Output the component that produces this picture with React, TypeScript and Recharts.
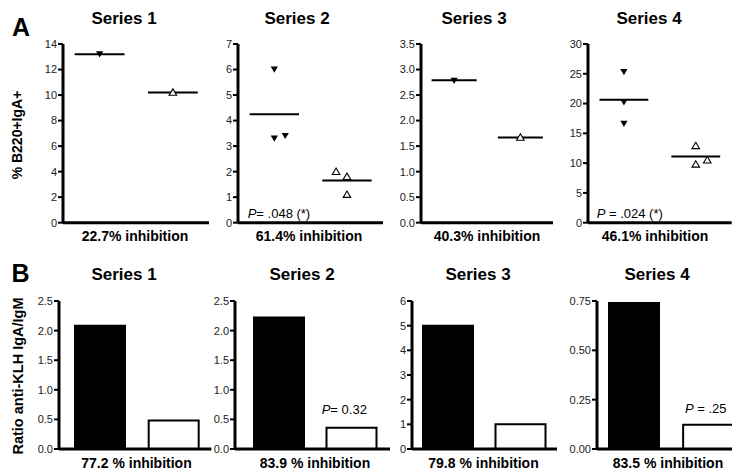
import React from 'react';
import { ScatterChart, Scatter, XAxis, YAxis, ReferenceLine, BarChart, Bar, Cell } from 'recharts';

// ---------- data ----------
const panelTitles = ['Series 1', 'Series 2', 'Series 3', 'Series 4'];
const aInhibition = ['22.7% inhibition', '61.4% inhibition', '40.3% inhibition', '46.1% inhibition'];
const bInhibition = ['77.2 % inhibition', '83.9 % inhibition', '79.8 % inhibition', '83.5 % inhibition'];

const aTicks = [
  [0, 2, 4, 6, 8, 10, 12, 14],
  [0, 1, 2, 3, 4, 5, 6, 7],
  [0, 0.5, 1, 1.5, 2, 2.5, 3, 3.5],
  [0, 5, 10, 15, 20, 25, 30],
];
const aDecimals = [0, 0, 1, 0];

const filledValues = [[13.2], [6.0, 3.3, 3.4], [2.78], [25.3, 20.2, 16.6]];
const filledJitter = [[0], [0, 0, 0.15], [0], [0, 0, 0]];
const openValues = [[10.2], [2.0, 1.8, 1.1], [1.67], [12.9, 9.8, 10.5]];
const openJitter = [[0], [-0.15, 0, 0], [0], [0, 0, 0.16]];
const filledMeans = [13.2, 4.25, 2.79, 20.66];
const openMeans = [10.2, 1.65, 1.67, 11.1];

const aPText = ['', '= .048 (*)', '', ' = .024 (*)'];

const bTicks = [
  [0, 0.5, 1, 1.5, 2, 2.5],
  [0, 0.5, 1, 1.5, 2, 2.5],
  [0, 1, 2, 3, 4, 5, 6],
  [0, 0.25, 0.5, 0.75],
];
const bDecimals = [1, 1, 0, 2];
const bFilled = [2.08, 2.22, 5.0, 0.74];
const bOpen = [0.48, 0.36, 1.0, 0.123];
const bPText = ['', '= 0.32', '', ' = .25'];

// ---------- layout ----------
const FONT = '"Liberation Sans", Arial, Helvetica, sans-serif';
const YW = 40;
const MT = 8;
const MB = 8;
const XH = 3;

const aAxisX = [62.5, 237.7, 420.5, 588.3];
const aAxisEnd = [209, 383, 553, 732];
const aTop = 44;
const aBottom = 222.7;
const aTitleX = [124, 297, 474, 649];
const aInhX = [135, 309, 487, 655];
const aPPos = [null, [247.7, 213], null, [596.7, 213]];

const bAxisX = [59.3, 235, 411.7, 596.7];
const bAxisEnd = [211.7, 390, 556.7, 745];
const bPad = [[4, 1], [8, 2], [0, 0], [0, 0]];
const bTop = 300.5;
const bBottom = 448.5;
const bTitleX = [124, 302, 478, 657];
const bInhX = [136.5, 315, 483.5, 668];
const bPPos = [null, [321.7, 409], null, [685, 408]];

const HALF = 0.34;

const DownTri = (props: any) => {
  const { cx, cy } = props;
  if (cx == null || cy == null) return null;
  return <path d={`M${cx - 3.6},${cy - 3} L${cx + 3.6},${cy - 3} L${cx},${cy + 3.2} Z`} fill="#000" />;
};
const UpTri = (props: any) => {
  const { cx, cy } = props;
  if (cx == null || cy == null) return null;
  return (
    <path
      d={`M${cx},${cy - 3.6} L${cx + 3.8},${cy + 2.8} L${cx - 3.8},${cy + 2.8} Z`}
      fill="#fff"
      stroke="#000"
      strokeWidth={1.1}
    />
  );
};

const txt = (x: number, y: number, s: string, style: React.CSSProperties, key: string) => (
  <div
    key={key}
    style={{
      position: 'absolute',
      left: x,
      top: y,
      transform: 'translate(-50%, -50%)',
      whiteSpace: 'nowrap',
      lineHeight: 1,
      fontFamily: FONT,
      color: '#000',
      ...style,
    }}
  >
    {s}
  </div>
);

const axisLine = { stroke: '#000', strokeWidth: 3 };
const tickLine = { stroke: '#000', strokeWidth: 2 };
const tickStyle = { fontSize: 11, fill: '#222', fontFamily: FONT };

function DotPanel({ i }: { i: number }) {
  const plotW = aAxisEnd[i] - aAxisX[i];
  const plotH = aBottom - aTop;
  const w = plotW + YW;
  const h = MT + plotH + XH + MB;
  const filled = filledValues[i].map((y, k) => ({ x: 0.5 + filledJitter[i][k], y }));
  const open = openValues[i].map((y, k) => ({ x: 1.5 + openJitter[i][k], y }));
  const ticks = aTicks[i];
  const dom = [ticks[0], ticks[ticks.length - 1]];
  return (
    <div style={{ position: 'absolute', left: aAxisX[i] - YW, top: aTop - MT }}>
      <ScatterChart width={w} height={h} margin={{ top: MT, right: 0, left: 0, bottom: MB }}>
        <XAxis type="number" dataKey="x" domain={[0, 2]} tick={false} tickLine={false} axisLine={axisLine} height={XH} />
        <YAxis
          type="number"
          dataKey="y"
          domain={dom}
          ticks={ticks}
          interval={0}
          width={YW}
          tickSize={5}
          tickMargin={1}
          tick={tickStyle}
          tickLine={tickLine}
          axisLine={axisLine}
          tickFormatter={(v: number) => v.toFixed(aDecimals[i])}
          allowDataOverflow
        />
        <ReferenceLine
          segment={[{ x: 0.5 - HALF, y: filledMeans[i] }, { x: 0.5 + HALF, y: filledMeans[i] }]}
          stroke="#000"
          strokeWidth={2}
        />
        <ReferenceLine
          segment={[{ x: 1.5 - HALF, y: openMeans[i] }, { x: 1.5 + HALF, y: openMeans[i] }]}
          stroke="#000"
          strokeWidth={2}
        />
        <Scatter data={filled} shape={DownTri} isAnimationActive={false} />
        <Scatter data={open} shape={UpTri} isAnimationActive={false} />
      </ScatterChart>
    </div>
  );
}

function BarPanel({ i }: { i: number }) {
  const plotW = bAxisEnd[i] - bAxisX[i];
  const plotH = bBottom - bTop;
  const w = plotW + YW;
  const h = MT + plotH + XH + MB;
  const data = [
    { name: 'control', v: bFilled[i] },
    { name: 'treated', v: bOpen[i] },
  ];
  const ticks = bTicks[i];
  const dom = [ticks[0], ticks[ticks.length - 1]];
  return (
    <div style={{ position: 'absolute', left: bAxisX[i] - YW, top: bTop - MT }}>
      <BarChart width={w} height={h} data={data} margin={{ top: MT, right: 0, left: 0, bottom: MB }} barCategoryGap={0}>
        <XAxis
          dataKey="name"
          type="category"
          tick={false}
          tickLine={false}
          axisLine={axisLine}
          height={XH}
          padding={{ left: bPad[i][0], right: bPad[i][1] }}
        />
        <YAxis
          type="number"
          domain={dom}
          ticks={ticks}
          interval={0}
          width={YW}
          tickSize={5}
          tickMargin={1}
          tick={tickStyle}
          tickLine={tickLine}
          axisLine={axisLine}
          tickFormatter={(v: number) => v.toFixed(bDecimals[i])}
          allowDataOverflow
        />
        <Bar dataKey="v" barSize={50} stroke="#000" strokeWidth={2} isAnimationActive={false}>
          {data.map((d, k) => (
            <Cell key={d.name} fill={k === 0 ? '#000' : '#fff'} />
          ))}
        </Bar>
      </BarChart>
    </div>
  );
}

export default function App() {
  const texts: React.ReactNode[] = [];
  texts.push(txt(21, 27, 'A', { fontSize: 25, fontWeight: 700 }, 'A'));
  texts.push(txt(20.5, 273, 'B', { fontSize: 25, fontWeight: 700 }, 'B'));
  texts.push(
    txt(17, 135, '% B220+IgA+', { fontSize: 14, fontWeight: 700, transform: 'translate(-50%, -50%) rotate(-90deg)' }, 'ya')
  );
  texts.push(
    txt(17.5, 376, 'Ratio anti-KLH IgA/IgM', { fontSize: 14.5, fontWeight: 700, transform: 'translate(-50%, -50%) rotate(-90deg)' }, 'yb')
  );
  panelTitles.forEach((t, i) => {
    texts.push(txt(aTitleX[i], 18, t, { fontSize: 17, fontWeight: 700 }, 'at' + i));
    texts.push(txt(bTitleX[i], 273.5, t, { fontSize: 17, fontWeight: 700 }, 'bt' + i));
    texts.push(txt(aInhX[i], 235.5, aInhibition[i], { fontSize: 14, fontWeight: 700 }, 'ai' + i));
    texts.push(txt(bInhX[i], 462.5, bInhibition[i], { fontSize: 14, fontWeight: 700 }, 'bi' + i));
  });
  const pNode = (pos: number[] | null, s: string, key: string) =>
    pos ? (
      <div
        key={key}
        style={{
          position: 'absolute',
          left: pos[0],
          top: pos[1],
          transform: 'translateY(-50%)',
          whiteSpace: 'pre',
          lineHeight: 1,
          fontFamily: FONT,
          fontSize: 13,
          color: '#000',
        }}
      >
        <i>P</i>
        {s}
      </div>
    ) : null;

  return (
    <div
      style={{
        position: 'fixed',
        left: 0,
        top: 0,
        width: 732,
        height: 471,
        overflow: 'hidden',
        background: '#fff',
        fontFamily: FONT,
      }}
    >
      {[0, 1, 2, 3].map((i) => (
        <DotPanel key={'a' + i} i={i} />
      ))}
      {[0, 1, 2, 3].map((i) => (
        <BarPanel key={'b' + i} i={i} />
      ))}
      {texts}
      {aPPos.map((p, i) => pNode(p, aPText[i], 'ap' + i))}
      {bPPos.map((p, i) => pNode(p, bPText[i], 'bp' + i))}
    </div>
  );
}
